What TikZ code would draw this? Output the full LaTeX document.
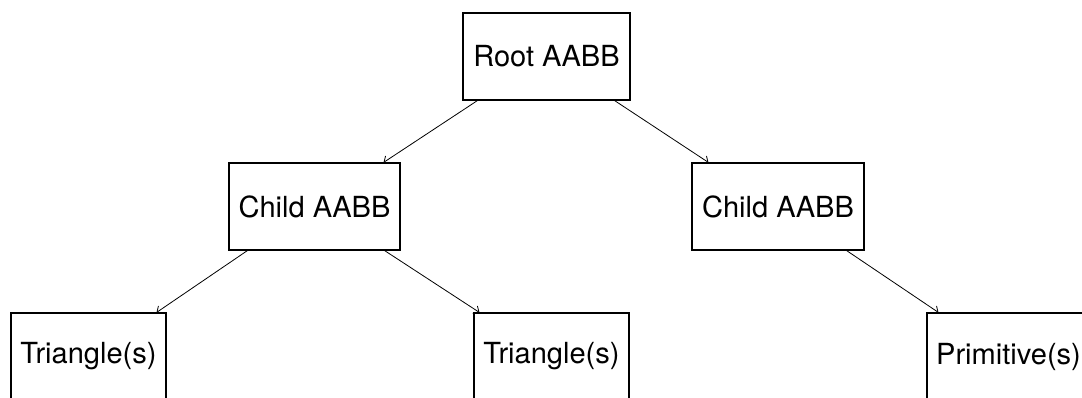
\documentclass[tikz,border=0pt]{standalone}
\usepackage{fontspec}
\setmainfont{TeX Gyre Heros}
\usetikzlibrary{arrows.meta}
\begin{document}
\begin{tikzpicture}[x=0.75pt,y=-0.75pt,
  box/.style={draw,line width=0.8pt,inner sep=0pt,minimum height=65.25pt,font=\fontsize{21.8}{26}\selectfont},
  link/.style={line width=0.6pt,-{Straight Barb[length=3.5pt,width=6.5pt]}}]
\clip (0,0) rectangle (1082,397);
\useasboundingbox (0,0) rectangle (1082,397);
\node[box,minimum width=125.25pt] (root) at (546.5,56.5) {Root AABB};
\node[box,minimum width=128.25pt] (cl) at (314.5,206.5) {Child AABB};
\node[box,minimum width=129pt] (cr) at (778,206.5) {Child AABB};
\node[box,minimum width=116.25pt] (t1) at (88.5,356.5) {Triangle(s)};
\node[box,minimum width=116.25pt] (t2) at (551.5,356.5) {Triangle(s)};
\node[box,minimum width=122.25pt] (p) at (1008.5,356.5) {Primitive(s)};
\draw[link] ([xshift=11.25pt]root.south west) -- ([xshift=-12.75pt]cl.north east);
\draw[link] ([xshift=-12pt]root.south east) -- ([xshift=12.75pt]cr.north west);
\draw[link] ([xshift=14.25pt]cl.south west) -- ([xshift=-7.5pt]t1.north east);
\draw[link] ([xshift=-12pt]cl.south east) -- ([xshift=4.5pt]t2.north west);
\draw[link] ([xshift=-13.5pt]cr.south east) -- ([xshift=9pt]p.north west);
\end{tikzpicture}
\end{document}
